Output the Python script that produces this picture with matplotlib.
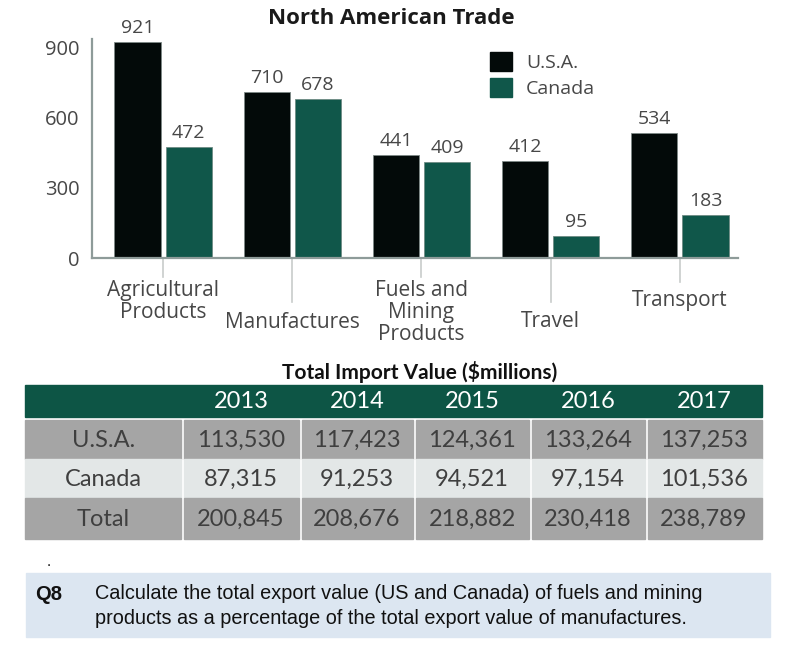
import matplotlib
matplotlib.use('Agg')
import matplotlib.pyplot as plt
from matplotlib.patches import Rectangle, Patch
import numpy as np


# chart data
CATEGORIES = ['Agricultural\nProducts', 'Manufactures', 'Fuels and\nMining\nProducts',
              'Travel', 'Transport']
USA_EXPORTS = [921, 710, 441, 412, 534]
CANADA_EXPORTS = [472, 678, 409, 95, 183]
Y_TICKS = [0, 300, 600, 900]

# table data
YEARS = ['2013', '2014', '2015', '2016', '2017']
ROW_NAMES = ['U.S.A.', 'Canada', 'Total']
USA_IMPORTS = [113530, 117423, 124361, 133264, 137253]
CANADA_IMPORTS = [87315, 91253, 94521, 97154, 101536]
TOTAL_IMPORTS = [200845, 208676, 218882, 230418, 238789]

QUESTION = ('Calculate the total export value (US and Canada) of fuels and mining\n'
            'products as a percentage of the total export value of manufactures.')

BLACK = '#030a09'
TEAL = '#10574a'
GREY_TXT = '#474747'

W, H = 795, 650
plt.rcParams['font.family'] = ['Open Sans', 'DejaVu Sans']

fig = plt.figure(figsize=(W / 100, H / 100), dpi=100)
fig.patch.set_facecolor('white')

# main bar chart, placed in pixel terms
ax_top, ax_bot, ax_l, ax_r = 38.8, 258, 92, 738
ax = fig.add_axes([ax_l / W, 1 - ax_bot / H, (ax_r - ax_l) / W, (ax_bot - ax_top) / H])
ax_h_px = ax_bot - ax_top

x = np.arange(len(CATEGORIES))
off, bw = 0.198, 0.357
b1 = ax.bar(x - off, USA_EXPORTS, bw, color=BLACK, edgecolor='#7d8886', linewidth=0.6, label='U.S.A.')
b2 = ax.bar(x + off, CANADA_EXPORTS, bw, color=TEAL, edgecolor='#6f8b84', linewidth=0.6, label='Canada')

for bars, vals in ((b1, USA_EXPORTS), (b2, CANADA_EXPORTS)):
    for rect, v in zip(bars, vals):
        ax.annotate(str(v), (rect.get_x() + rect.get_width() / 2, v),
                    xytext=(0, 5), textcoords='offset pixels',
                    ha='center', va='bottom', fontsize=14, color=GREY_TXT)

ax.set_xlim(-0.55, 4.45)
ax.set_ylim(0, 935)
ax.set_yticks(Y_TICKS)
ax.tick_params(axis='y', length=0, pad=9, labelsize=14.5, labelcolor=GREY_TXT)
ax.set_xticks([])
for s in ('top', 'right'):
    ax.spines[s].set_visible(False)
for s in ('left', 'bottom'):
    ax.spines[s].set_color('#8e9b99')
    ax.spines[s].set_linewidth(1.6)

# staggered category ticks and labels
tick_len = [19, 44, 19, 44, 24]
label_top = [22, 54, 22, 53, 32]
trans = ax.get_xaxis_transform()
for i, name in enumerate(CATEGORIES):
    ax.plot([i, i], [0, -tick_len[i] / ax_h_px], transform=trans, clip_on=False,
            color='#c8cccb', lw=1.2)
    ax.annotate(name, (i, 0), xycoords=trans, xytext=(0, -label_top[i]),
                textcoords='offset pixels', ha='center', va='top',
                fontsize=15, color=GREY_TXT, linespacing=1.05)

fig.text(391 / W, 1 - 18 / H, 'North American Trade', ha='center', va='center',
         fontsize=16, fontweight='bold', color='#1a1a1a')

fig.legend(handles=[Patch(color=BLACK), Patch(color=TEAL)], labels=['U.S.A.', 'Canada'],
           loc='upper left', bbox_to_anchor=(490 / W, 1 - 52 / H), frameon=False,
           fontsize=14, borderpad=0, borderaxespad=0, handlelength=1.15, handleheight=1.15,
           handletextpad=0.7, labelspacing=0.3, labelcolor=GREY_TXT)

# overlay for table and question, pixel coordinates
ov = fig.add_axes([0, 0, 1, 1])
ov.set_xlim(0, W)
ov.set_ylim(H, 0)
ov.axis('off')

tfont = ['Lato', 'DejaVu Sans']
ov.text(420, 372, 'Total Import Value ($millions)', ha='center', va='center',
        fontsize=15, fontweight='bold', family=tfont, color='#111111')

col_edges = [25, 182, 300, 414, 530, 646, 762]
row_edges = [420, 459, 498, 539]
ov.add_patch(Rectangle((col_edges[0], 385), col_edges[-1] - col_edges[0], 32, color='#0d5545'))
for j, yr in enumerate(YEARS):
    cx = (col_edges[j + 1] + col_edges[j + 2]) / 2
    ov.text(cx, 402, yr, ha='center', va='center', fontsize=17, family=tfont, color='white')

row_colors = ['#a5a5a5', '#e3e7e7', '#a5a5a5']
for r, (name, vals) in enumerate(zip(ROW_NAMES, [USA_IMPORTS, CANADA_IMPORTS, TOTAL_IMPORTS])):
    y0, y1 = row_edges[r], row_edges[r + 1]
    cells = [name] + [f'{v:,}' for v in vals]
    for c, txt in enumerate(cells):
        x0, x1 = col_edges[c], col_edges[c + 1]
        gl = 0 if c == 0 else 1.5
        gr = 0 if c == len(cells) - 1 else 1.5
        ov.add_patch(Rectangle((x0 + gl, y0), x1 - x0 - gl - gr, y1 - y0, color=row_colors[r]))
        ov.text((x0 + x1) / 2, (y0 + y1) / 2 + 1, txt, ha='center', va='center',
                fontsize=17, family=tfont, color='#3f3f3f')

# question box
qfont = ['Liberation Sans', 'DejaVu Sans']
ov.text(49, 562, '.', ha='center', va='center', fontsize=11, family=qfont, color='#111111')
ov.add_patch(Rectangle((26, 573), 770 - 26, 637 - 573, color='#dce6f1'))
ov.text(35, 594, 'Q8', ha='left', va='center', fontsize=14.5, fontweight='bold',
        family=qfont, color='#111111')
ov.text(95, 606, QUESTION, ha='left', va='center', fontsize=14.3, family=qfont,
        color='#111111', linespacing=1.45)

fig.savefig('out.png', dpi=100)
